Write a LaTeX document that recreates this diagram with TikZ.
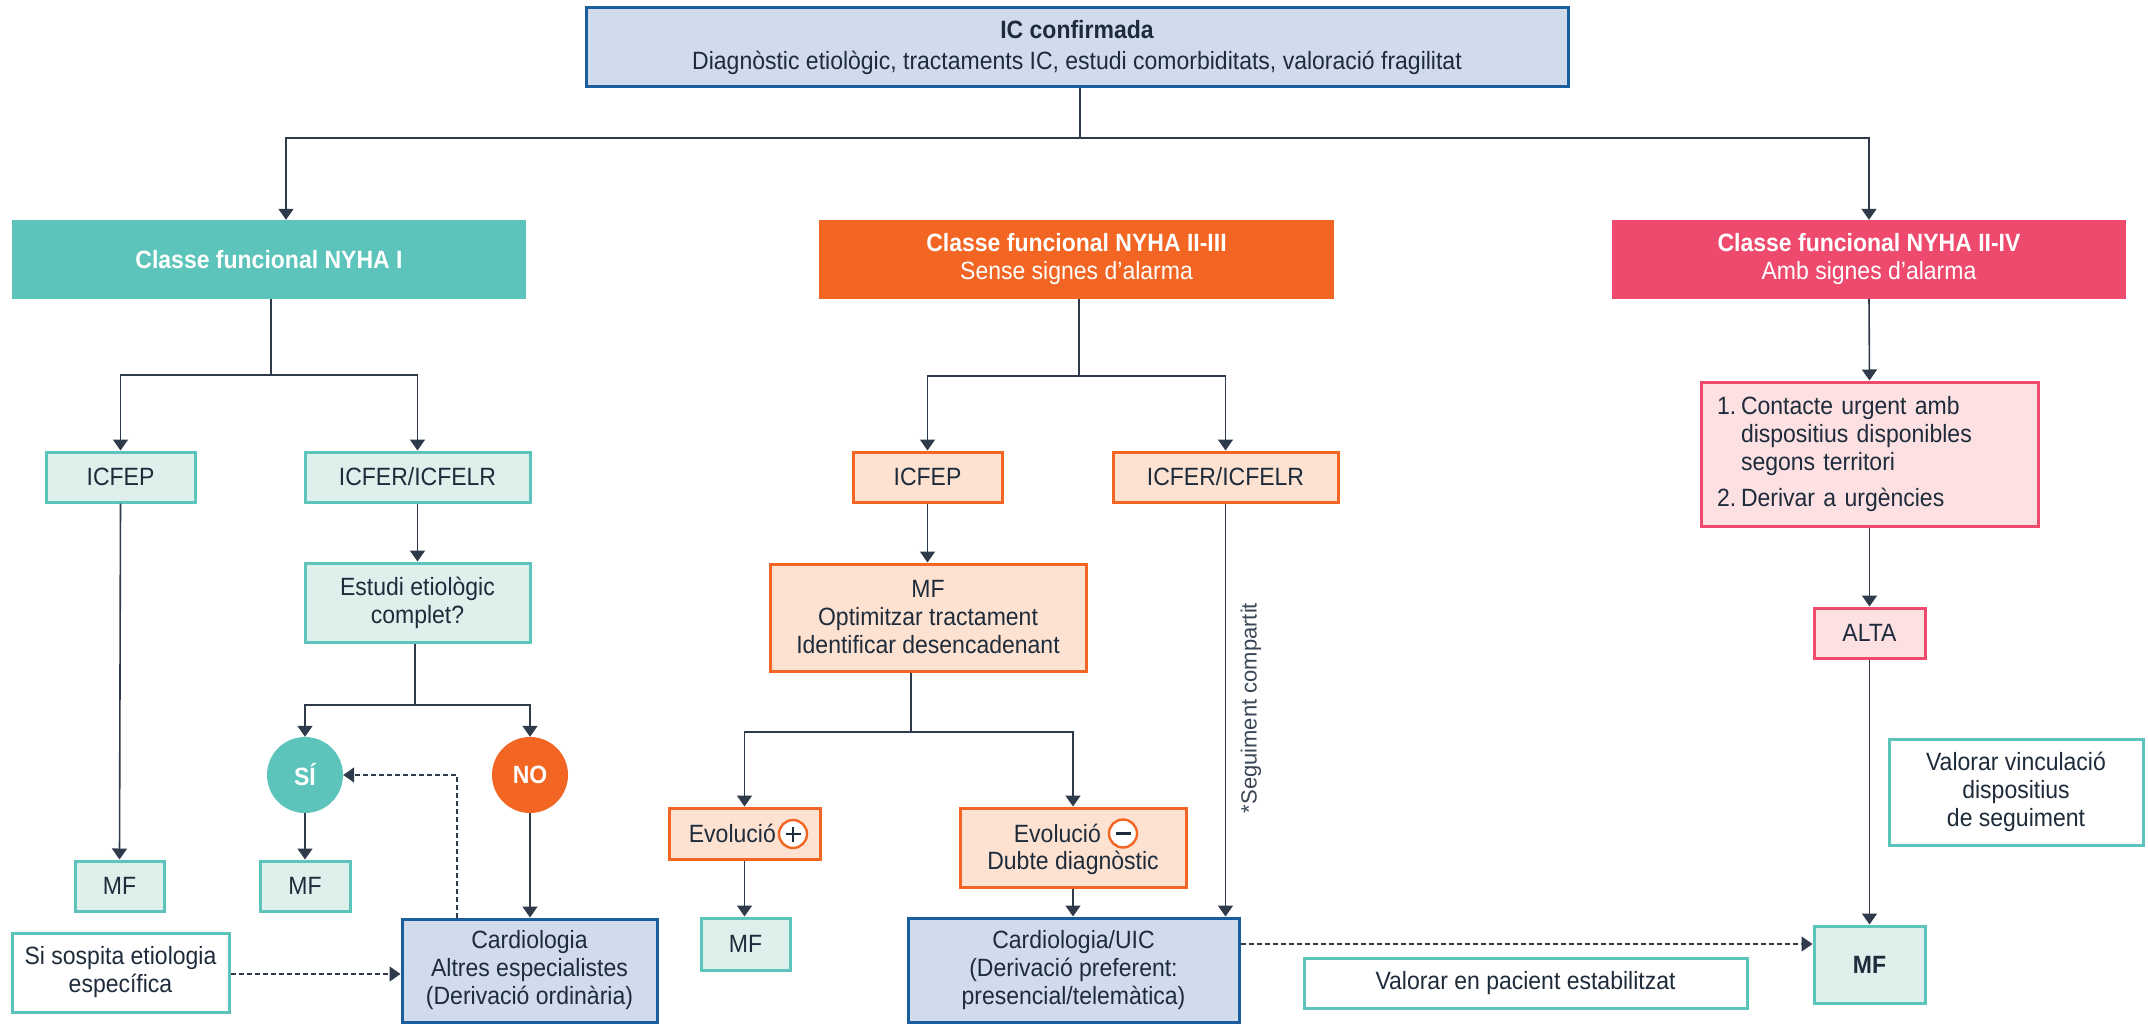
\documentclass[tikz,border=0pt]{standalone}
\usepackage{fontspec}
\setmainfont{Liberation Sans}[FakeStretch=0.92]
\newfontfamily\segfont{Liberation Sans}
\usetikzlibrary{arrows.meta}
\definecolor{ink}{HTML}{1E2B3A}
\definecolor{connC}{HTML}{2F3B4A}
\definecolor{tealC}{HTML}{5CC4BA}
\definecolor{tealF}{HTML}{DDF0EC}
\definecolor{orangeC}{HTML}{F26522}
\definecolor{orangeF}{HTML}{FDE2D2}
\definecolor{pinkC}{HTML}{EE4A6E}
\definecolor{pinkF}{HTML}{FCE0E2}
\definecolor{blueB}{HTML}{1A5E9E}
\definecolor{blueF}{HTML}{D0DCEB}
\definecolor{segC}{HTML}{3A4656}
\tikzset{
  basebox/.style={align=center, inner sep=0pt, line width=3pt, text=ink},
  tbox/.style={basebox, draw=tealC, fill=tealF},
  obox/.style={basebox, draw=orangeC, fill=orangeF},
  pbox/.style={basebox, draw=pinkC, fill=pinkF},
  bbox/.style={basebox, draw=blueB, fill=blueF},
  wbox/.style={basebox, draw=tealC, fill=white},
  hdr/.style={align=center, inner sep=0pt, text=white},
  dot/.style={circle, inner sep=0pt, minimum size=76pt, text=white, font=\fontsize{25}{28}\selectfont\bfseries},
  csign/.style={circle, draw=orangeC, fill=white, line width=2.4pt, inner sep=0pt, minimum size=28pt},
  signbar/.style={draw=ink, line width=2.2pt},
  line/.style={draw=connC, line width=1.6pt},
  arr/.style={line, -{Triangle[length=11pt,width=15pt]}},
  dasharr/.style={line, dash pattern=on 5pt off 3pt, -{Triangle[length=11pt,width=15pt]}},
}
\begin{document}
\begin{tikzpicture}[x=1pt, y=-1pt, font=\fontsize{25}{28}\selectfont]
\useasboundingbox (0,0) rectangle (2148,1024);
\fill[white] (0,0) rectangle (2148,1024);

% top
\node[bbox, minimum width=982, minimum height=79] (top) at (1077,47.5)
  {\bfseries IC confirmada\\[3pt]Diagnòstic etiològic, tractaments IC, estudi comorbiditats, valoració fragilitat};

% headers
\node[hdr, fill=tealC, minimum width=514, minimum height=79] (h1) at (269,259.5) {\bfseries Classe funcional NYHA I};
\node[hdr, fill=orangeC, minimum width=515, minimum height=79] (h2) at (1076.5,259.5) {\bfseries Classe funcional NYHA II-III\\Sense signes d’alarma};
\node[hdr, fill=pinkC, minimum width=514, minimum height=79] (h3) at (1869,259.5) {\bfseries Classe funcional NYHA II-IV\\Amb signes d’alarma};

% left column
\node[tbox, minimum width=149, minimum height=50] (a1) at (120.5,477) {ICFEP};
\node[tbox, minimum width=225, minimum height=50] (a2) at (417.5,477) {ICFER/ICFELR};
\node[tbox, minimum width=225, minimum height=79] (est) at (417.5,602.5) {Estudi etiològic\\complet?};
\node[dot, fill=tealC] (si) at (305,775) {SÍ};
\node[dot, fill=orangeC] (no) at (530,775) {NO};
\node[tbox, minimum width=89, minimum height=50] (mf1) at (119.5,886) {MF};
\node[tbox, minimum width=90, minimum height=50] (mf2) at (305,886) {MF};
\node[bbox, minimum width=255, minimum height=103] (card1) at (529.5,970.5) {Cardiologia\\Altres especialistes\\(Derivació ordinària)};
\node[wbox, minimum width=217, minimum height=79] (sosp) at (120.5,972.5) {Si sospita etiologia\\específica};

% middle column
\node[obox, minimum width=149, minimum height=50] (b1) at (927.5,477) {ICFEP};
\node[obox, minimum width=225, minimum height=50] (b2) at (1225.5,477) {ICFER/ICFELR};
\node[obox, minimum width=316, minimum height=107] (mfo) at (928,617.5) {MF\\Optimitzar tractament\\Identificar desencadenant};
\node[obox, minimum width=151, minimum height=51] (evp) at (744.5,833.5) {};
\node[anchor=east, inner sep=0pt, text=ink] (evpt) at (776,833.5) {Evolució};
\node[csign] (evpc) at (793,834) {};
\draw[signbar] ([xshift=-7.5pt]evpc.center) -- ([xshift=7.5pt]evpc.center);
\draw[signbar] ([yshift=-7.5pt]evpc.center) -- ([yshift=7.5pt]evpc.center);
\node[obox, minimum width=226, minimum height=79] (evm) at (1073,847.5) {};
\node[anchor=east, inner sep=0pt, text=ink] (evmt) at (1101,833.5) {Evolució};
\node[csign] (evmc) at (1123,833.5) {};
\draw[signbar] ([xshift=-7.5pt]evmc.center) -- ([xshift=7.5pt]evmc.center);
\node[inner sep=0pt, text=ink] (evmd) at (1073,863) {Dubte diagnòstic};
\node[tbox, minimum width=89, minimum height=52] (mf3) at (745.5,944) {MF};
\node[bbox, minimum width=331, minimum height=104] (card2) at (1073.5,970) {Cardiologia/UIC\\(Derivació preferent:\\presencial/telemàtica)};
\node[rotate=90, inner sep=0pt, text=segC, font=\segfont\fontsize{22}{26}\selectfont] (seg) at (1251,708) {*Seguiment compartit};

% right column
\node[pbox, minimum width=337, minimum height=144, text width=305, align=left] (plist) at (1869.5,454)
  {\makebox[24pt][l]{1.}Contacte urgent amb\\\hspace*{24pt}dispositius disponibles\\\hspace*{24pt}segons territori\\[8pt]\makebox[24pt][l]{2.}Derivar a urgències};
\node[pbox, minimum width=111, minimum height=50] (alta) at (1869.5,633) {ALTA};
\node[tbox, minimum width=111, minimum height=77] (mff) at (1869.5,964.5) {\bfseries MF};
\node[wbox, minimum width=443, minimum height=50] (vest) at (1525.5,983) {Valorar en pacient estabilitzat};
\node[wbox, minimum width=254, minimum height=106] (vvin) at (2016,792) {Valorar vinculació\\dispositius\\de seguiment};

% connectors: top
\coordinate (j0) at (1080,138);
\draw[line] (top.south -| j0) -- (j0);
\draw[arr] (j0) -| ([xshift=17pt]h1.north);
\draw[arr] (j0) -| (h3.north);

% left column
\coordinate (j1) at (271,375);
\draw[line] (h1.south -| j1) -- (j1);
\draw[arr] (j1) -| (a1.north);
\draw[arr] (j1) -| (a2.north);
\draw[arr] (a1.south) -- (mf1.north);
\draw[arr] (a2.south) -- (est.north);
\coordinate (j2) at (415,705);
\draw[line] (est.south -| j2) -- (j2);
\draw[arr] (j2) -| (si.north);
\draw[arr] (j2) -| (no.north);
\draw[arr] (si.south) -- (mf2.north);
\draw[arr] (no.south) -- (no.south |- card1.north);
\draw[dasharr] ([xshift=-72.5pt]card1.north) |- (si.east);
\draw[dasharr] (sosp.east |- 0,974) -- (card1.west |- 0,974);

% middle column
\coordinate (j3) at (1079,376);
\draw[line] (h2.south -| j3) -- (j3);
\draw[arr] (j3) -| (b1.north);
\draw[arr] (j3) -| (b2.north);
\draw[arr] (b1.south) -- (b1.south |- mfo.north);
\coordinate (j4) at (911,732);
\draw[line] (mfo.south -| j4) -- (j4);
\draw[arr] (j4) -| (evp.north);
\draw[arr] (j4) -| (evm.north);
\draw[arr] (evp.south) -- (evp.south |- mf3.north);
\draw[arr] (evm.south) -- (evm.south |- card2.north);
\draw[arr] (b2.south) -- (b2.south |- card2.north);
\draw[dasharr] (card2.east |- 0,944) -- (mff.west |- 0,944);

% right column
\draw[arr] (h3.south) -- (plist.north);
\draw[arr] (plist.south) -- (alta.north);
\draw[arr] (alta.south) -- (mff.north);
\end{tikzpicture}
\end{document}
